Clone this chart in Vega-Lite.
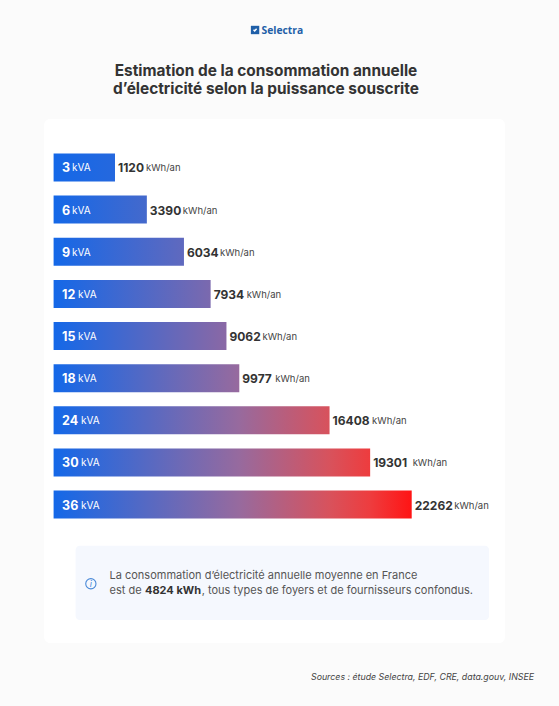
{
  "$schema": "https://vega.github.io/schema/vega-lite/v6.json",
  "width": 559,
  "height": 706,
  "padding": 0,
  "autosize": "none",
  "background": "#fbfbfb",
  "title": {
    "text": ["Estimation de la consommation annuelle", "d’électricité selon la puissance souscrite"],
    "anchor": "middle",
    "frame": "group",
    "dx": -13.5,
    "baseline": "top",
    "offset": -97,
    "font": "Inter",
    "fontSize": 15.4,
    "fontWeight": 700,
    "lineHeight": 18,
    "color": "#333333"
  },
  "config": {
    "view": {"stroke": null},
    "text": {"font": "Inter"}
  },
  "data": {
    "values": [
      {"rang": 1, "kva": 3, "conso": 1120},
      {"rang": 2, "kva": 6, "conso": 3390},
      {"rang": 3, "kva": 9, "conso": 6034},
      {"rang": 4, "kva": 12, "conso": 7934},
      {"rang": 5, "kva": 15, "conso": 9062},
      {"rang": 6, "kva": 18, "conso": 9977},
      {"rang": 7, "kva": 24, "conso": 16408},
      {"rang": 8, "kva": 30, "conso": 19301},
      {"rang": 9, "kva": 36, "conso": 22262}
    ]
  },
  "layer": [
    {
      "data": {"values": [{}]},
      "mark": {"type": "rect", "fill": "white", "cornerRadius": 6},
      "encoding": {
        "x": {"datum": -3928, "axis": null, "scale": {"domain": [-7074, 32757], "nice": false, "zero": false, "padding": 0}},
        "x2": {"datum": 28911},
        "y": {"datum": -0.151, "axis": null, "scale": {"domain": [13.783, -2.976], "nice": false, "zero": false, "padding": 0}},
        "y2": {"datum": 12.288}
      }
    },
    {
      "mark": {"type": "bar", "height": 28},
      "encoding": {
        "x": {"field": "conso", "type": "quantitative"},
        "y": {"field": "rang", "type": "quantitative"},
        "x2": {"datum": -3255},
        "color": {
          "condition": [
            {"test": "datum.kva == 3", "value": {"gradient": "linear", "x1": 0, "x2": 1, "y1": 0, "y2": 0, "stops": [{"offset": 0, "color": "#1468e8"}, {"offset": 1, "color": "#2568de"}]}},
            {"test": "datum.kva == 6", "value": {"gradient": "linear", "x1": 0, "x2": 1, "y1": 0, "y2": 0, "stops": [{"offset": 0, "color": "#1468e8"}, {"offset": 1, "color": "#4469cc"}]}},
            {"test": "datum.kva == 9", "value": {"gradient": "linear", "x1": 0, "x2": 1, "y1": 0, "y2": 0, "stops": [{"offset": 0, "color": "#1468e8"}, {"offset": 1, "color": "#6069be"}]}},
            {"test": "datum.kva == 12", "value": {"gradient": "linear", "x1": 0, "x2": 1, "y1": 0, "y2": 0, "stops": [{"offset": 0, "color": "#1468e8"}, {"offset": 1, "color": "#7b69ae"}]}},
            {"test": "datum.kva == 15", "value": {"gradient": "linear", "x1": 0, "x2": 1, "y1": 0, "y2": 0, "stops": [{"offset": 0, "color": "#1468e8"}, {"offset": 1, "color": "#8a68a5"}]}},
            {"test": "datum.kva == 18", "value": {"gradient": "linear", "x1": 0, "x2": 1, "y1": 0, "y2": 0, "stops": [{"offset": 0, "color": "#1468e8"}, {"offset": 1, "color": "#976a9e"}]}},
            {"test": "datum.kva == 24", "value": {"gradient": "linear", "x1": 0, "x2": 1, "y1": 0, "y2": 0, "stops": [{"offset": 0, "color": "#1468e8"}, {"offset": 0.67, "color": "#976a9e"}, {"offset": 1, "color": "#d8525c"}]}},
            {"test": "datum.kva == 30", "value": {"gradient": "linear", "x1": 0, "x2": 1, "y1": 0, "y2": 0, "stops": [{"offset": 0, "color": "#1468e8"}, {"offset": 0.587, "color": "#976a9e"}, {"offset": 0.873, "color": "#d8525c"}, {"offset": 1, "color": "#ee3c3e"}]}}
          ],
          "value": {"gradient": "linear", "x1": 0, "x2": 1, "y1": 0, "y2": 0, "stops": [{"offset": 0, "color": "#1468e8"}, {"offset": 0.518, "color": "#976a9e"}, {"offset": 0.77, "color": "#d8525c"}, {"offset": 0.885, "color": "#ee3c3e"}, {"offset": 1, "color": "#ff1414"}]}
        }
      }
    },
    {
      "mark": {"type": "text", "align": "left", "baseline": "middle", "dy": 1, "fontWeight": 700, "fontSize": 12.5, "color": "white"},
      "encoding": {
        "x": {"datum": -2650},
        "y": {"field": "rang", "type": "quantitative"},
        "text": {"field": "kva", "type": "nominal"}
      }
    },
    {
      "transform": [{"filter": "datum.kva < 10"}],
      "mark": {"type": "text", "align": "left", "baseline": "middle", "dy": 1, "fontSize": 10, "color": "white"},
      "encoding": {
        "x": {"datum": -1945},
        "y": {"field": "rang", "type": "quantitative"},
        "text": {"value": "kVA"}
      }
    },
    {
      "transform": [{"filter": "datum.kva >= 10 && datum.kva < 20"}],
      "mark": {"type": "text", "align": "left", "baseline": "middle", "dy": 1, "fontSize": 10, "color": "white"},
      "encoding": {
        "x": {"datum": -1516},
        "y": {"field": "rang", "type": "quantitative"},
        "text": {"value": "kVA"}
      }
    },
    {
      "transform": [{"filter": "datum.kva >= 20"}],
      "mark": {"type": "text", "align": "left", "baseline": "middle", "dy": 1, "fontSize": 10, "color": "white"},
      "encoding": {
        "x": {"datum": -1303},
        "y": {"field": "rang", "type": "quantitative"},
        "text": {"value": "kVA"}
      }
    },
    {
      "mark": {"type": "text", "align": "left", "baseline": "middle", "dx": 3, "dy": 1, "fontWeight": 700, "fontSize": 12, "color": "#333333"},
      "encoding": {
        "x": {"field": "conso", "type": "quantitative"},
        "y": {"field": "rang", "type": "quantitative"},
        "text": {"field": "conso", "type": "nominal"}
      }
    },
    {
      "transform": [{"filter": "datum.conso < 2000"}],
      "mark": {"type": "text", "align": "left", "baseline": "middle", "dx": 31, "dy": 1, "fontSize": 9.5, "color": "#444444"},
      "encoding": {
        "x": {"field": "conso", "type": "quantitative"},
        "y": {"field": "rang", "type": "quantitative"},
        "text": {"value": "kWh/an"}
      }
    },
    {
      "transform": [{"filter": "datum.conso >= 2000 && datum.conso < 10000"}],
      "mark": {"type": "text", "align": "left", "baseline": "middle", "dx": 36, "dy": 1, "fontSize": 9.5, "color": "#444444"},
      "encoding": {
        "x": {"field": "conso", "type": "quantitative"},
        "y": {"field": "rang", "type": "quantitative"},
        "text": {"value": "kWh/an"}
      }
    },
    {
      "transform": [{"filter": "datum.conso >= 10000"}],
      "mark": {"type": "text", "align": "left", "baseline": "middle", "dx": 42.5, "dy": 1, "fontSize": 9.5, "color": "#444444"},
      "encoding": {
        "x": {"field": "conso", "type": "quantitative"},
        "y": {"field": "rang", "type": "quantitative"},
        "text": {"value": "kWh/an"}
      }
    },
    {
      "data": {"values": [{}]},
      "mark": {"type": "rect", "fill": "#f5f8fe", "cornerRadius": 4},
      "encoding": {
        "x": {"datum": -1686},
        "x2": {"datum": 27772},
        "y": {"datum": 9.978},
        "y2": {"datum": 11.742}
      }
    },
    {
      "data": {"values": [{}]},
      "mark": {"type": "point", "shape": "circle", "filled": false, "size": 105, "stroke": "#4a8ad8", "strokeWidth": 1.1, "opacity": 1},
      "encoding": {"x": {"datum": -600}, "y": {"datum": 10.88}}
    },
    {
      "data": {"values": [{}]},
      "mark": {"type": "text", "align": "center", "baseline": "middle", "fontSize": 9, "fontStyle": "italic", "color": "#4a8ad8"},
      "encoding": {"x": {"datum": -600}, "y": {"datum": 10.88}, "text": {"value": "i"}}
    },
    {
      "data": {"values": [{"ligne": "La consommation d’électricité annuelle moyenne en France"}]},
      "mark": {"type": "text", "align": "left", "baseline": "middle", "fontSize": 11, "color": "#555555"},
      "encoding": {"x": {"datum": 727}, "y": {"datum": 10.695}, "text": {"field": "ligne"}}
    },
    {
      "data": {"values": [{"ligne": "est de"}]},
      "mark": {"type": "text", "align": "left", "baseline": "middle", "fontSize": 11, "color": "#555555"},
      "encoding": {"x": {"datum": 727}, "y": {"datum": 11.05}, "text": {"field": "ligne"}}
    },
    {
      "data": {"values": [{"ligne": "4824 kWh"}]},
      "mark": {"type": "text", "align": "left", "baseline": "middle", "fontSize": 11, "fontWeight": 700, "color": "#333333"},
      "encoding": {"x": {"datum": 3258}, "y": {"datum": 11.05}, "text": {"field": "ligne"}}
    },
    {
      "data": {"values": [{"ligne": ", tous types de foyers et de fournisseurs confondus."}]},
      "mark": {"type": "text", "align": "left", "baseline": "middle", "fontSize": 11, "color": "#555555"},
      "encoding": {"x": {"datum": 7300}, "y": {"datum": 11.05}, "text": {"field": "ligne"}}
    },
    {
      "data": {"values": [{"ligne": "Sources : étude Selectra, EDF, CRE, data.gouv, INSEE"}]},
      "mark": {"type": "text", "align": "right", "baseline": "middle", "fontSize": 8.8, "fontStyle": "italic", "color": "#444444"},
      "encoding": {"x": {"datum": 30977}, "y": {"datum": 13.095}, "text": {"field": "ligne"}}
    },
    {
      "data": {"values": [{}]},
      "mark": {"type": "point", "shape": "square", "filled": true, "size": 70, "color": "#1f5fa8", "opacity": 1},
      "encoding": {"x": {"datum": 11100}, "y": {"datum": -2.264}}
    },
    {
      "data": {"values": [{}]},
      "mark": {"type": "point", "shape": "M-0.6,-0.1L-0.15,0.35L0.6,-0.5", "filled": false, "size": 26, "stroke": "white", "strokeWidth": 1.4, "opacity": 1},
      "encoding": {"x": {"datum": 11100}, "y": {"datum": -2.264}}
    },
    {
      "data": {"values": [{"ligne": "Selectra"}]},
      "mark": {"type": "text", "align": "left", "baseline": "middle", "dy": 1, "font": "Open Sans", "fontSize": 10.3, "fontWeight": 700, "color": "#1f5fa8"},
      "encoding": {"x": {"datum": 11560}, "y": {"datum": -2.264}, "text": {"field": "ligne"}}
    }
  ]
}
